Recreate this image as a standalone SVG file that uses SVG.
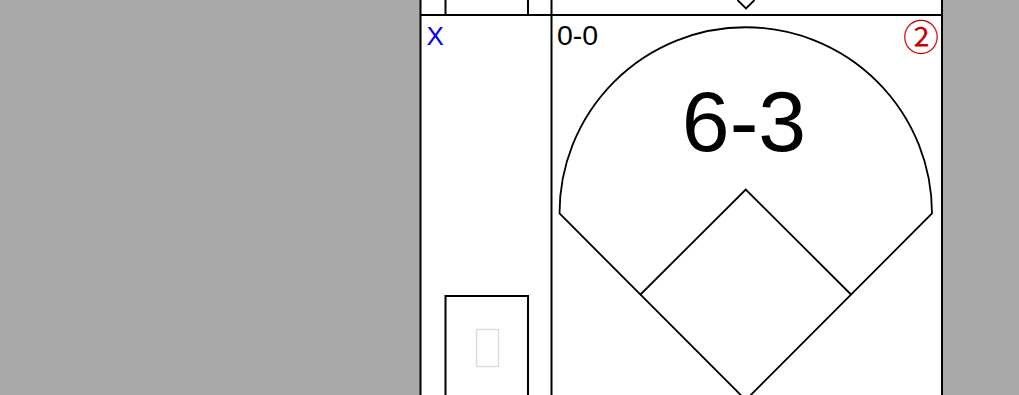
<svg xmlns="http://www.w3.org/2000/svg" width="1019" height="395" viewBox="0 0 1019 395">
<style>
.ln{fill:none;stroke:#000;stroke-width:2}
.fl{fill:none;stroke:#000;stroke-width:1.8}
.t{font-family:"Liberation Sans",Arial,sans-serif}
</style>
<rect width="1019" height="395" fill="#a9a9a9"/>
<g id="sheet">
<rect x="420.5" y="-5" width="521.5" height="410" style="fill:#fff" class="ln"/>
<line x1="420" y1="15" x2="942" y2="15" class="ln"/>
<line x1="551.5" y1="-5" x2="551.5" y2="400" class="ln"/>
</g>
<g id="prev-cell">
<line x1="445.5" y1="-2" x2="445.5" y2="15" class="ln"/>
<line x1="528" y1="-2" x2="528" y2="15" class="ln"/>
<polyline points="737.5,0 746,8.5 754.5,0" class="fl"/>
</g>
<g id="batter">
<text x="426.5" y="44.5" class="t" font-size="26" fill="#0000ff">X</text>
<rect x="445.5" y="296" width="82.5" height="110" class="ln"/>
<rect x="476.5" y="329.5" width="22" height="37" fill="none" stroke="#dddddd" stroke-width="1.5"/>
</g>
<g id="field">
<path d="M559.5,213.5 A186.25,186.25 0 0 1 932,213.5 L745.75,400 Z" class="fl"/>
<path d="M640,295 L745.75,189.5 L851.5,295" class="fl"/>
<text x="557" y="44.5" class="t" font-size="28.5">0-0</text>
<text x="744" y="150.5" class="t" font-size="86" text-anchor="middle">6-3</text>
<text x="921" y="51" font-size="36" fill="#c80000" text-anchor="middle" style="font-family:'Noto Sans CJK JP','DejaVu Sans',sans-serif">②</text>
</g>
</svg>
